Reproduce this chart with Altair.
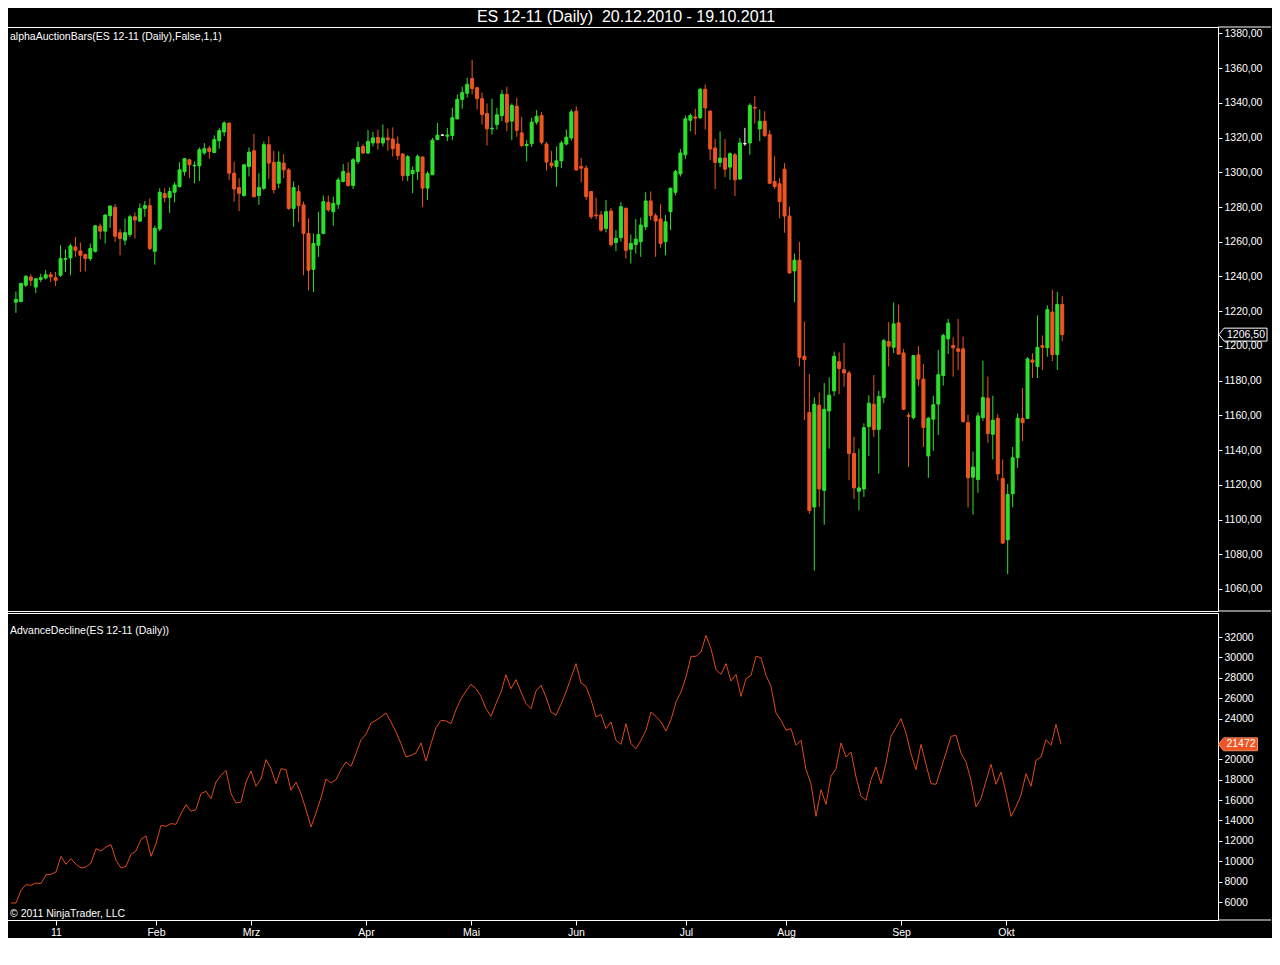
import json
import altair as alt
import pandas as pd

# ---------------- data ----------------
opens = [1225.2,1225.6,1235.0,1239.7,1233.9,1238.3,1239.1,1241.0,1239.3,1240.7,
 1249.9,1250.7,1257.0,1254.7,1252.6,1250.3,1254.5,1269.0,1266.1,1275.0,
 1279.8,1265.2,1260.9,1264.2,1274.4,1271.9,1279.2,1280.8,1254.5,1267.3,
 1287.7,1285.4,1288.5,1291.8,1300.4,1307.2,1303.7,1303.7,1311.2,1313.9,
 1311.4,1318.2,1323.2,1328.4,1299.5,1291.2,1286.6,1303.3,1312.4,1286.6,
 1290.8,1315.9,1305.8,1293.7,1305.3,1301.4,1279.2,1288.9,1281.2,1264.8,
 1244.1,1258.0,1264.8,1282.7,1277.3,1281.6,1294.7,1299.5,1292.4,1306.2,
 1314.9,1311.1,1316.9,1320.1,1316.9,1319.8,1319.2,1316.3,1310.5,1298.1,
 1299.2,1300.5,1308.8,1290.9,1298.6,1318.9,1321.4,1320.8,1321.2,1330.8,
 1342.0,1345.5,1354.0,1348.7,1342.4,1333.9,1325.0,1327.5,1332.7,1344.9,
 1329.5,1338.1,1322.7,1315.4,1316.5,1328.9,1332.7,1316.3,1305.3,1303.4,
 1306.6,1316.3,1319.8,1335.2,1303.4,1302.4,1288.9,1275.4,1275.4,1267.7,
 1277.7,1259.6,1262.3,1279.3,1255.7,1258.4,1260.0,1268.6,1283.5,1275.0,
 1273.1,1260.0,1277.3,1288.5,1299.1,1310.1,1330.0,1331.9,1331.4,1347.8,
 1335.2,1314.0,1305.7,1308.2,1303.0,1310.1,1296.1,1316.5,1316.9,1337.5,
 1325.0,1329.4,1321.7,1294.7,1293.4,1301.8,1274.8,1243.2,1249.4,1194.0,
 1161.6,1107.2,1165.8,1116.8,1162.5,1174.1,1190.9,1186.3,1184.4,1138.0,
 1116.3,1117.6,1153.5,1166.4,1151.9,1170.3,1202.5,1199.2,1213.3,1195.9,
 1160.0,1158.7,1194.8,1180.9,1136.6,1157.8,1166.5,1182.9,1204.1,1200.2,
 1198.3,1198.3,1155.8,1124.4,1123.0,1158.7,1169.9,1149.1,1158.3,1123.6,
 1088.3,1114.8,1135.6,1158.3,1158.3,1191.9,1188.1,1200.2,1198.9,1219.5,
 1195.0,1223.9]
highs = [1231.4,1236.4,1240.7,1241.2,1239.1,1241.6,1243.7,1242.6,1242.6,1258.0,
 1255.7,1259.0,1262.8,1259.6,1253.2,1259.0,1269.6,1270.5,1275.8,1280.8,
 1281.7,1267.3,1273.4,1275.4,1276.9,1282.1,1283.5,1285.0,1269.2,1290.8,
 1290.8,1291.2,1294.3,1305.8,1308.2,1307.8,1306.2,1314.3,1316.8,1315.3,
 1321.3,1325.5,1329.4,1328.4,1306.2,1296.6,1304.7,1314.3,1322.1,1299.5,
 1317.8,1320.7,1312.4,1312.0,1310.5,1302.4,1294.7,1292.4,1283.1,1273.5,
 1264.8,1277.3,1286.6,1286.6,1286.0,1297.0,1304.7,1305.9,1308.2,1317.8,
 1316.3,1324.4,1323.2,1324.6,1327.5,1325.2,1325.9,1320.7,1311.1,1310.0,
 1303.4,1310.2,1309.2,1300.5,1319.8,1328.5,1322.0,1325.6,1337.2,1344.9,
 1349.3,1354.5,1364.8,1349.3,1345.9,1339.7,1342.4,1337.2,1347.4,1349.3,
 1339.7,1343.0,1332.0,1318.5,1331.4,1335.8,1334.7,1317.5,1312.4,1314.9,
 1318.2,1324.6,1336.2,1338.1,1308.2,1304.0,1289.3,1285.4,1277.7,1284.1,
 1279.3,1266.7,1282.7,1279.6,1264.2,1273.1,1273.9,1288.5,1288.9,1276.4,
 1281.6,1275.4,1291.2,1301.4,1313.4,1332.7,1333.9,1336.6,1348.7,1350.6,
 1335.8,1319.2,1323.6,1319.2,1311.5,1311.1,1319.8,1325.6,1339.7,1343.9,
 1336.2,1335.2,1324.2,1309.2,1296.6,1305.3,1280.2,1253.2,1260.0,1214.0,
 1183.8,1170.3,1173.2,1178.6,1181.8,1196.7,1196.3,1201.7,1185.7,1147.7,
 1140.8,1155.4,1171.6,1183.2,1174.1,1204.0,1213.7,1224.9,1223.7,1198.2,
 1161.6,1194.8,1199.8,1189.6,1159.1,1171.3,1197.7,1207.0,1215.6,1205.0,
 1215.6,1205.4,1160.3,1139.1,1161.6,1191.5,1182.3,1171.3,1160.7,1134.6,
 1120.5,1141.8,1161.1,1175.7,1193.5,1195.8,1217.6,1206.0,1223.4,1232.4,
 1231.1,1228.6]
lows = [1219.0,1225.0,1233.9,1234.5,1230.4,1236.8,1238.3,1236.8,1234.5,1239.7,
 1242.6,1240.7,1251.3,1242.6,1243.0,1249.0,1253.8,1261.5,1259.0,1268.0,
 1259.9,1252.2,1258.0,1262.8,1261.9,1271.5,1274.4,1255.1,1246.8,1266.1,
 1282.7,1276.7,1282.7,1291.2,1298.1,1296.6,1293.7,1295.0,1310.1,1307.8,
 1311.1,1313.6,1320.7,1295.6,1283.1,1277.7,1286.0,1297.6,1285.4,1281.2,
 1289.8,1296.2,1287.9,1290.8,1296.6,1278.3,1268.6,1271.5,1240.7,1232.0,
 1231.0,1251.3,1264.2,1277.3,1269.2,1278.9,1294.3,1291.8,1290.4,1304.7,
 1310.5,1310.5,1314.9,1313.0,1314.9,1312.4,1309.1,1307.2,1295.1,1294.9,
 1288.0,1295.7,1279.9,1284.1,1298.6,1318.5,1321.0,1317.9,1318.5,1330.4,
 1336.6,1343.0,1344.9,1336.2,1327.5,1315.4,1321.7,1324.6,1329.5,1323.7,
 1318.5,1320.4,1314.6,1306.3,1314.6,1327.5,1316.0,1300.9,1302.4,1291.8,
 1302.4,1315.5,1318.2,1300.9,1294.3,1284.1,1273.1,1273.1,1265.8,1265.4,
 1257.1,1254.6,1260.0,1250.3,1247.4,1253.2,1251.3,1266.7,1272.5,1251.3,
 1256.5,1252.2,1266.7,1286.6,1297.6,1307.6,1323.6,1321.7,1330.8,1324.6,
 1306.9,1290.3,1303.0,1297.2,1295.7,1286.4,1295.7,1315.3,1310.1,1328.1,
 1317.9,1320.4,1293.4,1290.3,1273.5,1265.2,1241.7,1225.2,1188.2,1157.3,
 1103.3,1070.5,1107.2,1097.0,1140.8,1171.2,1172.2,1176.6,1122.6,1111.8,
 1105.2,1113.0,1136.5,1147.7,1126.5,1167.0,1188.2,1195.9,1194.8,1163.1,
 1130.3,1157.7,1177.0,1141.8,1124.0,1139.5,1148.7,1177.1,1195.4,1182.3,
 1186.1,1155.8,1107.0,1102.8,1115.3,1156.8,1144.3,1134.6,1122.5,1085.8,
 1068.5,1107.0,1129.8,1145.2,1157.8,1181.5,1181.5,1186.1,1193.8,1191.2,
 1186.1,1202.7]
closes = [1226.8,1236.0,1240.1,1237.8,1238.7,1239.3,1241.0,1239.7,1237.8,1250.3,
 1250.3,1257.6,1255.1,1252.2,1250.3,1256.1,1269.2,1266.1,1275.4,1280.6,
 1263.2,1261.9,1265.2,1274.4,1272.5,1279.2,1280.8,1256.1,1267.7,1288.5,
 1285.4,1288.9,1292.7,1301.4,1307.8,1304.3,1304.0,1313.0,1313.6,1312.0,
 1318.8,1324.0,1328.4,1299.5,1290.4,1287.9,1304.3,1311.6,1286.0,1291.2,
 1315.9,1305.3,1290.0,1305.9,1301.4,1279.2,1291.2,1280.8,1264.8,1243.6,
 1259.0,1264.2,1283.1,1278.3,1282.1,1295.6,1300.5,1292.4,1307.2,1314.3,
 1311.1,1317.8,1319.8,1316.9,1319.8,1318.8,1313.6,1309.7,1298.1,1309.0,
 1301.1,1309.2,1290.9,1299.2,1318.5,1321.4,1321.4,1321.5,1331.4,1342.0,
 1345.9,1350.7,1348.2,1342.4,1333.3,1325.0,1325.4,1333.1,1344.9,1328.9,
 1338.5,1324.2,1315.4,1316.0,1328.9,1332.3,1317.3,1305.9,1303.8,1306.6,
 1316.9,1320.2,1334.8,1301.4,1302.4,1286.0,1274.4,1275.0,1266.7,1277.3,
 1258.4,1261.9,1280.2,1255.1,1259.0,1261.5,1269.6,1283.5,1275.0,1271.9,
 1259.0,1271.5,1290.8,1300.5,1311.1,1330.8,1332.7,1331.2,1347.8,1337.1,
 1313.4,1305.7,1308.2,1301.8,1310.7,1295.7,1316.9,1316.5,1338.5,1337.0,
 1329.4,1321.1,1293.7,1291.8,1283.1,1274.8,1242.0,1249.4,1193.4,1192.1,
 1105.2,1166.4,1117.6,1163.5,1171.6,1194.0,1187.0,1184.4,1138.0,1118.2,
 1118.2,1152.9,1167.0,1151.9,1170.8,1203.0,1199.8,1212.7,1195.3,1163.5,
 1159.3,1194.4,1180.9,1153.0,1158.3,1166.1,1183.4,1206.0,1213.1,1198.9,
 1196.9,1156.4,1124.0,1130.2,1159.7,1170.3,1149.5,1157.2,1126.3,1086.4,
 1114.4,1135.6,1158.3,1155.8,1192.5,1190.6,1199.2,1199.2,1220.9,1195.0,
 1223.9,1206.5]
ad_values = [5905,5905,7148,7704,7639,7867,7802,8685,8718,8946,
 10484,9699,10255,9699,9339,9437,9829,11235,11007,11399,
 11628,10091,9339,9503,10680,11007,12151,12478,10484,11726,
 13525,13427,13688,13623,14669,15552,14898,15061,16631,16860,
 16141,17776,18429,18920,16631,15715,15813,17776,18855,17350,
 18102,19967,19084,17612,19084,18985,16958,17776,16631,15061,
 13361,14734,16239,18070,17677,18004,18985,19737,19312,20555,
 21928,22452,23563,23825,24152,24545,23662,22680,21536,20228,
 20391,20620,21601,19835,21536,23106,23825,23760,23498,24872,
 25950,26703,27357,26931,26179,24970,24217,25462,26604,28305,
 26931,27814,26604,25462,
 24970,26703,27258,26114,24642,24316,25395,26605,28011,29384,
 27488,27160,25852,24152,24414,23007,23661,21863,21470,23498,
 21536,21045,21863,22844,24642,24217,23661,22779,23890,25624,
 26605,28076,30103,30103,30529,32164,30855,28795,28338,29384,
 27684,28338,26179,27912,28240,30103,29973,28240,27160,24545,
 23825,22844,23007,21372,21863,18985,17612,14407,17023,15585,
 18331,19084,21601,20228,20719,18266,16369,15977,18004,19247,
 17612,19639,22255,23106,23988,22582,20555,18985,21470,19509,
 17612,17547,19084,20620,22255,22353,20620,19737,17939,15323,
 16141,17874,19509,17547,18757,16696,14407,15323,16468,18593,
 17350,19901,20228,21928,21372,23433,21472]
month_labels = ["11", "Feb", "Mrz", "Apr", "Mai", "Jun", "Jul", "Aug", "Sep", "Okt"]
month_bars = [9, 29, 48, 71, 92, 113, 135, 155, 178, 199]
price_ticks = list(range(1060, 1381, 20))
ad_ticks = [v for v in range(6000, 32001, 2000) if v != 22000]  # 22000 sits under the last-value box

title_text = "ES 12-11 (Daily)\u00a0 20.12.2010 - 19.10.2011"
top_label = "alphaAuctionBars(ES 12-11 (Daily),False,1,1)"
bottom_label = "AdvanceDecline(ES 12-11 (Daily))"
copyright_text = "\u00a9 2011 NinjaTrader, LLC"

# ---------------- styling ----------------
GREEN = "#2EE02E"
RED = "#EE5522"
AD_RED = "#E0491C"
WHITE = "#FFFFFF"
FONT = "Liberation Sans"

W = 1217
H1 = 584
H2 = 307
X_DOM = [-2.0, 241.4]
Y1_DOM = [1047.3, 1383.7]
Y2_DOM = [4234, 34355]
RIGHT_END = 1270

n = len(closes)
df = pd.DataFrame({"i": list(range(n)), "open": opens, "high": highs,
                   "low": lows, "close": closes})
df["dir"] = ["up" if c > o else ("down" if c < o else "flat")
             for o, c in zip(opens, closes)]
ad_df = pd.DataFrame({"i": list(range(len(ad_values))), "ad": ad_values})

xsc = alt.Scale(domain=X_DOM, nice=False, zero=False)
y1sc = alt.Scale(domain=Y1_DOM, nice=False, zero=False)
y2sc = alt.Scale(domain=Y2_DOM, nice=False, zero=False)
col_scale = alt.Scale(domain=["up", "down", "flat"], range=[GREEN, RED, WHITE])

axis_common = dict(orient="right", grid=False, title=None, domain=True,
                   domainColor=WHITE, tickColor=WHITE, tickSize=4,
                   labelColor=WHITE, labelFont=FONT, labelFontSize=10.5,
                   labelPadding=2)
y1axis = alt.Axis(values=price_ticks,
                  labelExpr="replace(format(datum.value, '.2f'), '.', ',')",
                  **axis_common)
y2axis = alt.Axis(values=ad_ticks, labelExpr="format(datum.value, 'd')",
                  **axis_common)

month_expr = "%s[indexof(%s, datum.value)]" % (json.dumps(month_labels),
                                                 json.dumps(month_bars))
xaxis = alt.Axis(values=month_bars, labelExpr=month_expr, grid=False,
                 title=None, domain=True, domainColor=WHITE, tickColor=WHITE,
                 tickSize=5, labelColor=WHITE, labelFont=FONT,
                 labelFontSize=10.5, labelPadding=2)

base = alt.Chart(df)
wicks = base.mark_rule(strokeWidth=1).encode(
    x=alt.X("i:Q", scale=xsc, axis=None),
    y=alt.Y("low:Q", scale=y1sc, axis=y1axis),
    y2="high:Q",
    color=alt.Color("dir:N", scale=col_scale, legend=None),
)
bodies = base.mark_bar(size=3, strokeWidth=1).encode(
    x=alt.X("i:Q", scale=xsc, axis=None),
    y=alt.Y("open:Q", scale=y1sc, axis=y1axis),
    y2="close:Q",
    color=alt.Color("dir:N", scale=col_scale, legend=None),
    stroke=alt.Stroke("dir:N", scale=col_scale, legend=None),
)

def label(text, x, y, size=10.5, align="left", color=WHITE):
    d = pd.DataFrame({"t": [text]})
    return alt.Chart(d).mark_text(
        align=align, baseline="middle", font=FONT, fontSize=size, color=color
    ).encode(x=alt.value(x), y=alt.value(y), text="t:N")

def hline(y):
    return alt.Chart(pd.DataFrame({"k": [0]})).mark_rule(
        color=WHITE, strokeWidth=1
    ).encode(x=alt.value(W), x2=alt.value(RIGHT_END), y=alt.value(y))

top_txt = label(top_label, 9, 10)
title_txt = label(title_text, 625, -10, size=16, align="center")

last_price = closes[-1]
mk_df = pd.DataFrame({"v": [last_price],
                      "t": [("%.2f" % last_price).replace(".", ",")]})
price_marker = alt.Chart(mk_df).mark_point(
    shape="M-1,0L-0.79,-0.27L1,-0.27L1,0.27L-0.79,0.27Z", size=2304,
    filled=True, fill="black", stroke=WHITE, strokeWidth=1, opacity=1
).encode(x=alt.value(1242), y=alt.Y("v:Q", scale=y1sc, axis=y1axis))
price_marker_txt = alt.Chart(mk_df).mark_text(
    align="center", baseline="middle", font=FONT, fontSize=10.5, color=WHITE
).encode(x=alt.value(1245), y=alt.Y("v:Q", scale=y1sc, axis=y1axis), text="t:N")

top = alt.layer(wicks, bodies, top_txt, title_txt, hline(0), hline(H1),
                price_marker, price_marker_txt).properties(width=W, height=H1)

# ---------------- bottom panel ----------------
ad_line = alt.Chart(ad_df).mark_line(color=AD_RED, strokeWidth=1).encode(
    x=alt.X("i:Q", scale=xsc, axis=xaxis),
    y=alt.Y("ad:Q", scale=y2sc, axis=y2axis),
)
bot_txt = label(bottom_label, 9, 18)
cp_txt = label(copyright_text, 9, 301)

ad_mk_df = pd.DataFrame({"v": [ad_values[-1]], "t": [str(ad_values[-1])]})
ad_marker = alt.Chart(ad_mk_df).mark_point(
    shape="M-1,0L-0.74,-0.33L1,-0.33L1,0.33L-0.74,0.33Z", size=1521,
    filled=True, fill=RED, stroke="#F08A60", strokeWidth=1, opacity=1
).encode(x=alt.value(1237), y=alt.Y("v:Q", scale=y2sc, axis=y2axis))
ad_marker_txt = alt.Chart(ad_mk_df).mark_text(
    align="center", baseline="middle", font=FONT, fontSize=10.5, color=WHITE
).encode(x=alt.value(1240), y=alt.Y("v:Q", scale=y2sc, axis=y2axis), text="t:N")

bottom = alt.layer(ad_line, bot_txt, cp_txt, hline(H2), ad_marker,
                   ad_marker_txt).properties(width=W, height=H2)

chart = alt.vconcat(top, bottom, spacing=0).properties(
    background="black",
    padding={"top": 0, "left": -8, "right": 0, "bottom": 0},
).configure_view(stroke=WHITE, strokeWidth=1).configure_concat(spacing=0)

chart.save("out.html", embed_options={"renderer": "svg", "actions": False})
